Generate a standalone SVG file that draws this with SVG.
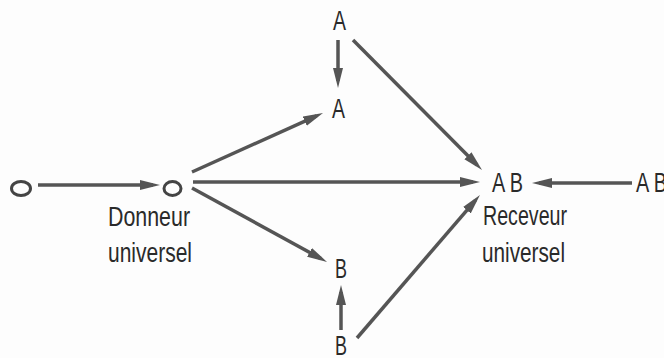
<svg xmlns="http://www.w3.org/2000/svg" width="664" height="358" viewBox="0 0 664 358">
<style>
.bg{fill:#fdfdfd}
.lbl{font-family:"Liberation Sans",Arial,sans-serif;font-size:27px;fill:#2a2a2a}
.edge{stroke:#555;stroke-width:3.5;fill:none;stroke-linecap:butt}
.node{fill:none;stroke:#444;stroke-width:3}
</style>
<defs>
<marker id="ah" markerUnits="userSpaceOnUse" markerWidth="20" markerHeight="12" refX="13" refY="6" orient="auto">
<path d="M0,1 L20,6 L0,11 z" fill="#555"/>
</marker>
</defs>
<rect class="bg" x="0" y="0" width="664" height="358"/>
<g id="connectors">
<line class="edge" x1="38" y1="185" x2="153" y2="185" marker-end="url(#ah)"/>
<line class="edge" x1="338" y1="40" x2="338" y2="81" marker-end="url(#ah)"/>
<line class="edge" x1="192" y1="172" x2="316.6" y2="115.9" marker-end="url(#ah)"/>
<line class="edge" x1="193" y1="182" x2="473" y2="182" marker-end="url(#ah)"/>
<line class="edge" x1="192" y1="188" x2="320.9" y2="258.6" marker-end="url(#ah)"/>
<line class="edge" x1="341" y1="330" x2="341" y2="292" marker-end="url(#ah)"/>
<line class="edge" x1="353" y1="40" x2="477.1" y2="165" marker-end="url(#ah)"/>
<line class="edge" x1="357" y1="338" x2="475.4" y2="200.3" marker-end="url(#ah)"/>
<line class="edge" x1="632" y1="183" x2="539" y2="183" marker-end="url(#ah)"/>
</g>
<g id="o-start"><ellipse class="node" cx="21" cy="188.5" rx="9.5" ry="7"/></g>
<g id="o-donneur">
<ellipse class="node" cx="172.5" cy="188.5" rx="8.5" ry="7"/>
<text class="lbl" x="108" y="226" textLength="82" lengthAdjust="spacingAndGlyphs">Donneur</text>
<text class="lbl" x="108" y="262" textLength="84" lengthAdjust="spacingAndGlyphs">universel</text>
</g>
<g id="a-top"><text class="lbl" x="333" y="30" textLength="13" lengthAdjust="spacingAndGlyphs">A</text></g>
<g id="a-mid"><text class="lbl" x="332" y="118" textLength="13" lengthAdjust="spacingAndGlyphs">A</text></g>
<g id="b-mid"><text class="lbl" x="335" y="278" textLength="12" lengthAdjust="spacingAndGlyphs">B</text></g>
<g id="b-bottom"><text class="lbl" x="335" y="355" textLength="12" lengthAdjust="spacingAndGlyphs">B</text></g>
<g id="ab-receveur">
<text class="lbl" x="492" y="192" textLength="31" lengthAdjust="spacingAndGlyphs">A B</text>
<text class="lbl" x="483" y="225" textLength="84" lengthAdjust="spacingAndGlyphs">Receveur</text>
<text class="lbl" x="482" y="262" textLength="83" lengthAdjust="spacingAndGlyphs">universel</text>
</g>
<g id="ab-right"><text class="lbl" x="636" y="192" textLength="31" lengthAdjust="spacingAndGlyphs">A B</text></g>
</svg>
